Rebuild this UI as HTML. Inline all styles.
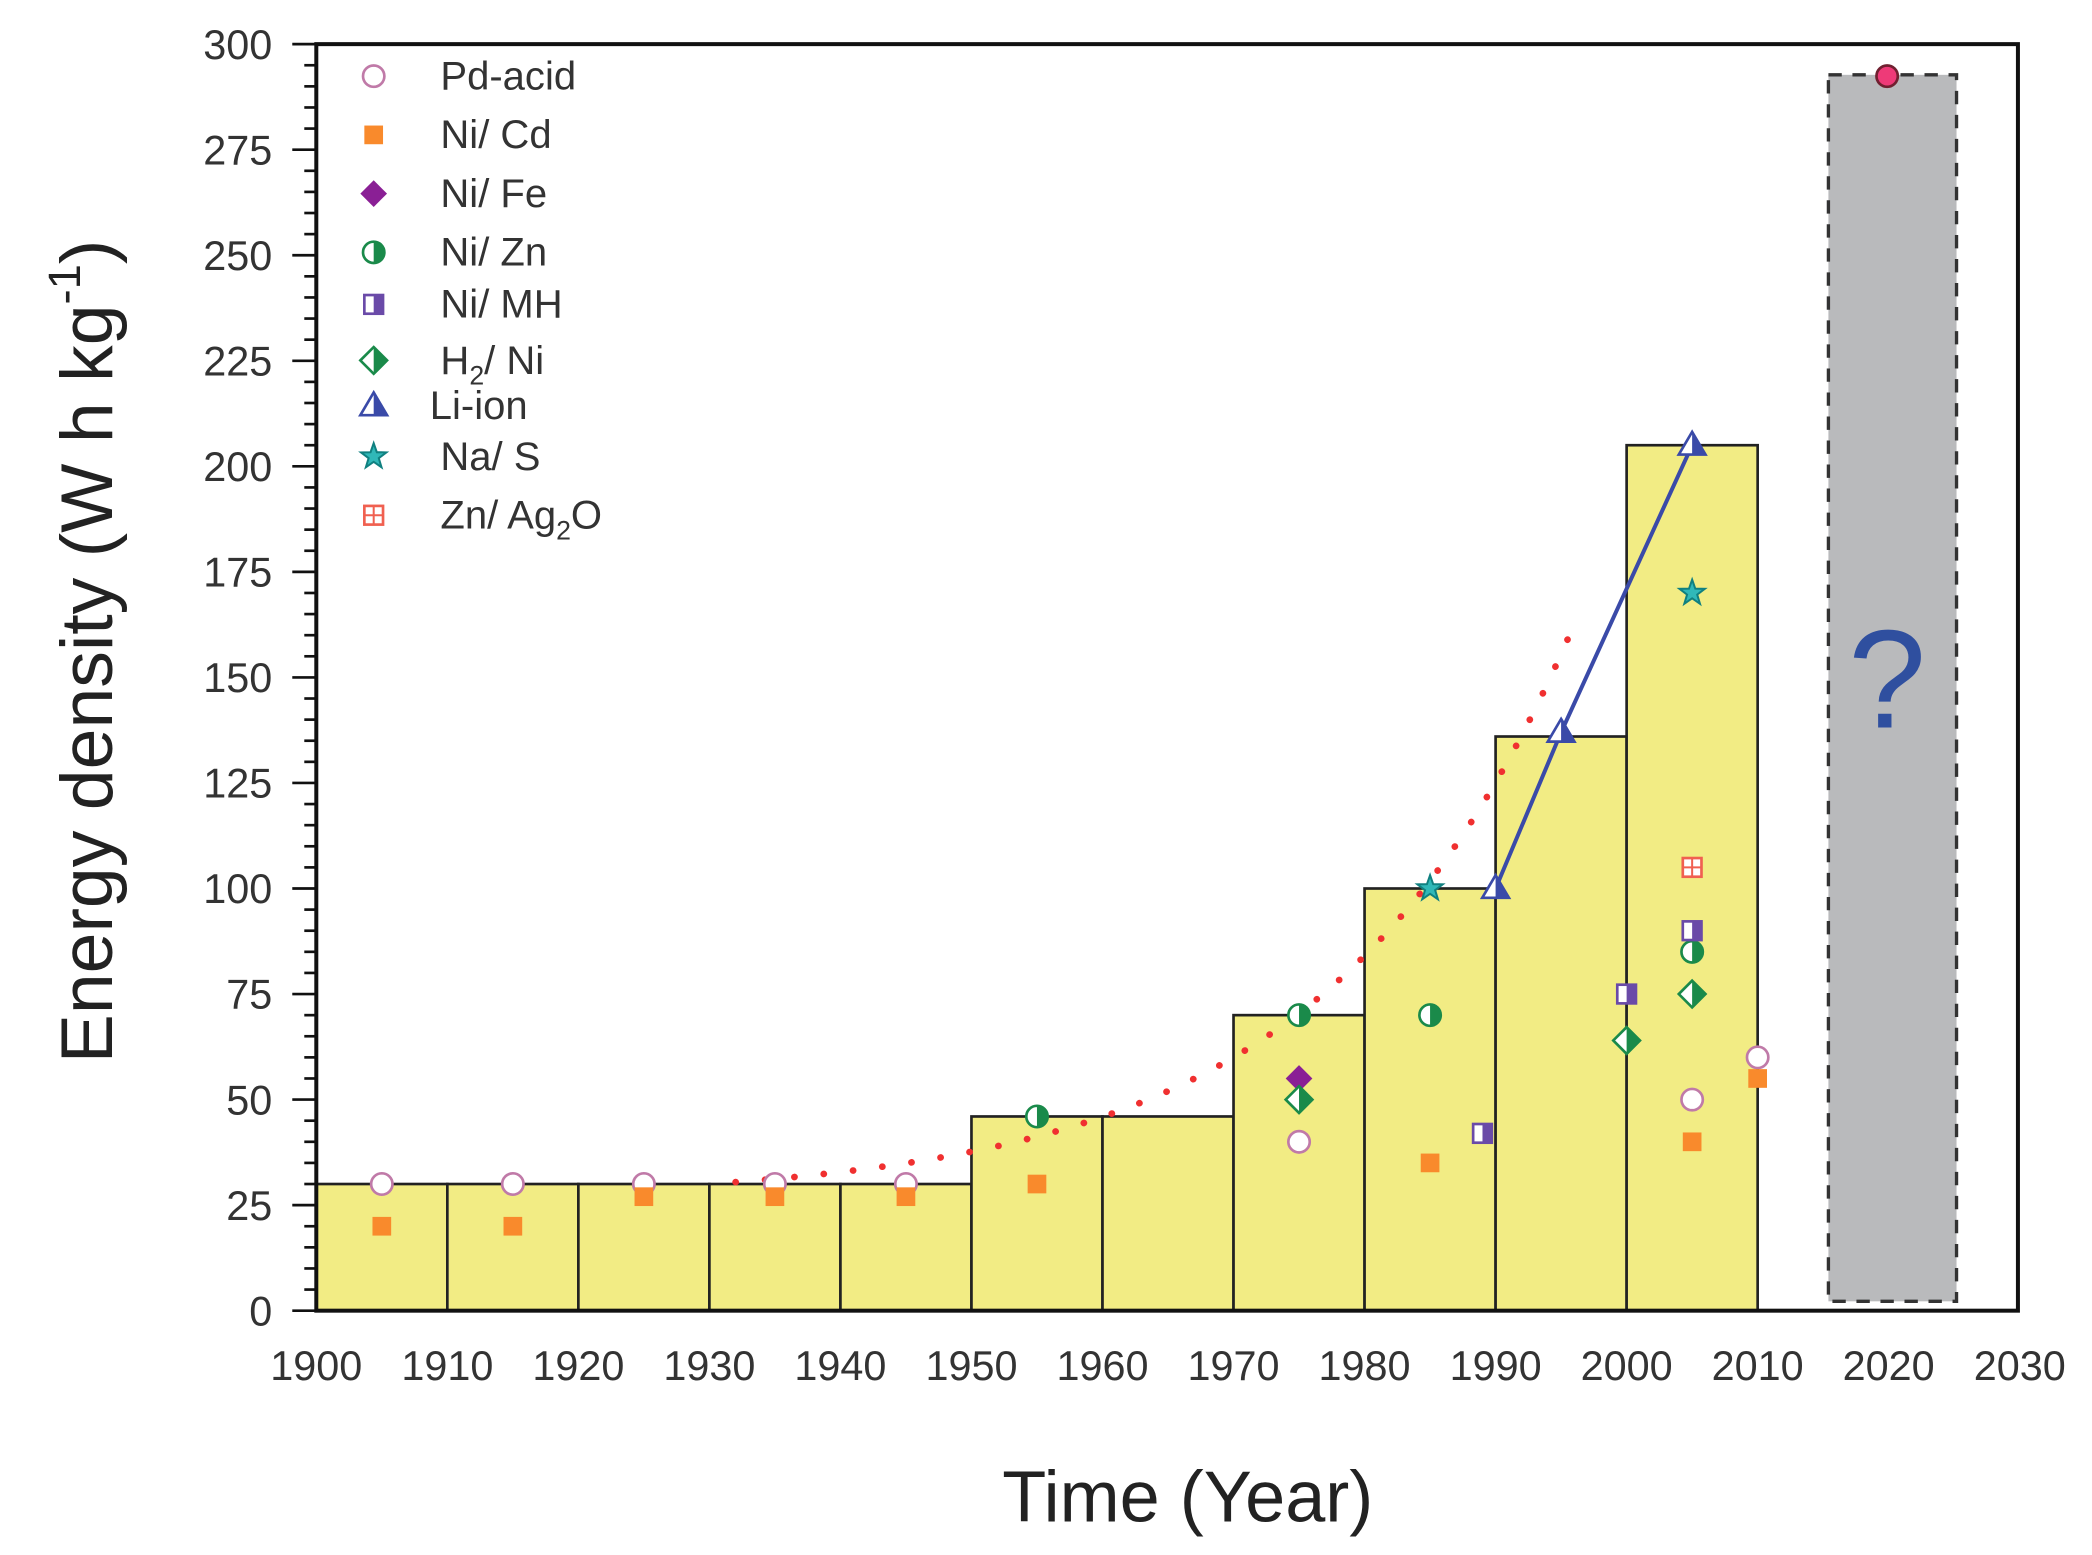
<!DOCTYPE html>
<html><head><meta charset="utf-8"><style>html,body{margin:0;padding:0;background:#fff}svg{display:block}</style></head>
<body>
<svg id="s" xmlns="http://www.w3.org/2000/svg" width="2092" height="1555" viewBox="0 0 1567.5 1165" font-family="Liberation Sans, sans-serif">
<rect width="1567.5" height="1165" fill="#fff"/>
<g id="bars" stroke="#222" stroke-width="2" fill="#f2ec84"></g>
<rect x="1370" y="56" width="96" height="919" fill="#b9babc" stroke="#333" stroke-width="2.5" stroke-dasharray="10,8"/>
<text x="1414" y="545" font-size="105" fill="#2f4f9f" text-anchor="middle">?</text>
<path id="curve" fill="none" stroke="#f03030" stroke-width="5" stroke-dasharray="0.1,22" stroke-linecap="round"/>
<polyline points="" id="li" fill="none" stroke="#3a4aa8" stroke-width="3"/>
<g id="mk"></g>
<rect x="237" y="33" width="1275" height="949" fill="none" stroke="#111" stroke-width="3"/>
<g id="ticks" stroke="#111" stroke-width="2"></g>
<g id="lab" font-size="31" fill="#333"></g>
<text transform="translate(84,488) rotate(-90)" font-size="55" fill="#222" text-anchor="middle">Energy density (W h kg<tspan font-size="34" dy="-24">-1</tspan><tspan dy="24">)</tspan></text>
<text x="890" y="1140" font-size="54" fill="#222" text-anchor="middle">Time (Year)</text>
<circle cx="1414" cy="57" r="8" fill="#ee3a78" stroke="#702030" stroke-width="2"/>
<g id="leg" font-size="30" fill="#333"></g>
</svg>
<script>
const NS="http://www.w3.org/2000/svg";
const X=y=>237+(y-1900)*9.818, Y=v=>982-v*3.1633;
function el(p,t,a,txt){const e=document.createElementNS(NS,t);for(const k in a)e.setAttribute(k,a[k]);if(txt!=null)e.textContent=txt;document.getElementById(p).appendChild(e);return e;}
[[1900,30],[1910,30],[1920,30],[1930,30],[1940,30],[1950,46],[1960,46],[1970,70],[1980,100],[1990,136],[2000,205]].forEach(([a,v])=>el('bars','rect',{x:X(a),y:Y(v),width:X(a+10)-X(a),height:Y(0)-Y(v)}));
let d="";for(let t=1932;t<=1996;t+=0.5){const val=26+4*Math.exp((t-1930)*0.0535);d+=(d?"L":"M")+X(t)+","+Y(val);}
document.getElementById('curve').setAttribute('d',d);
document.getElementById('li').setAttribute('points',[[1990,100],[1995,137],[2005,205]].map(p=>X(p[0])+","+Y(p[1])).join(" "));
function mark(g,type,x,y){
 const r=8;
 if(type=='pd') el(g,'circle',{cx:x,cy:y,r:r,fill:'#fff',stroke:'#c07aa8','stroke-width':2});
 if(type=='cd') el(g,'rect',{x:x-7,y:y-7,width:14,height:14,fill:'#f98a2c'});
 if(type=='fe') el(g,'path',{d:`M${x},${y-10}L${x+10},${y}L${x},${y+10}L${x-10},${y}Z`,fill:'#8a1f95'});
 if(type=='zn'){el(g,'circle',{cx:x,cy:y,r:r,fill:'#fff',stroke:'#1a8a4a','stroke-width':2});el(g,'path',{d:`M${x},${y-r}A${r},${r} 0 0 1 ${x},${y+r}Z`,fill:'#1a8a4a'});}
 if(type=='mh'){el(g,'rect',{x:x-7,y:y-7,width:14,height:14,fill:'#fff',stroke:'#6a4aa8','stroke-width':2});el(g,'rect',{x:x,y:y-7,width:7,height:14,fill:'#6a4aa8'});}
 if(type=='h2'){el(g,'path',{d:`M${x},${y-10}L${x+10},${y}L${x},${y+10}L${x-10},${y}Z`,fill:'#fff',stroke:'#1a8a4a','stroke-width':2});el(g,'path',{d:`M${x},${y-10}L${x+10},${y}L${x},${y+10}Z`,fill:'#1a8a4a'});}
 if(type=='li'){el(g,'path',{d:`M${x},${y-10}L${x+10},${y+7}L${x-10},${y+7}Z`,fill:'#fff',stroke:'#3a4aa8','stroke-width':2});el(g,'path',{d:`M${x},${y-10}L${x+10},${y+7}L${x},${y+7}Z`,fill:'#3a4aa8'});}
 if(type=='na'){let p="";for(let i=0;i<10;i++){const a=-Math.PI/2+i*Math.PI/5,rr=i%2?4:10;p+=(i?"L":"M")+(x+rr*Math.cos(a))+","+(y+rr*Math.sin(a));}el(g,'path',{d:p+"Z",fill:'#30b8b8',stroke:'#108080','stroke-width':1.5});}
 if(type=='ag'){el(g,'rect',{x:x-7,y:y-7,width:14,height:14,fill:'#fff',stroke:'#f06050','stroke-width':2});el(g,'path',{d:`M${x},${y-7}V${y+7}M${x-7},${y}H${x+7}`,stroke:'#f06050','stroke-width':1.5});}
}
const data={pd:[[1905,30],[1915,30],[1925,30],[1935,30],[1945,30],[1975,40],[2005,50],[2010,60]],
cd:[[1905,20],[1915,20],[1925,27],[1935,27],[1945,27],[1955,30],[1985,35],[2005,40],[2010,55]],
fe:[[1975,55]],zn:[[1955,46],[1975,70],[1985,70],[2005,85]],mh:[[1989,42],[2000,75],[2005,90]],
h2:[[1975,50],[2000,64],[2005,75]],na:[[1985,100],[2005,170]],ag:[[2005,105]],li:[[1990,100],[1995,137],[2005,205]]};
for(const k in data) data[k].forEach(p=>mark('mk',k,X(p[0]),Y(p[1])));
for(let v=0;v<=300;v+=5){const M=v%25==0;el('ticks','line',{x1:237-(M?18:9),x2:237,y1:Y(v),y2:Y(v)});if(M)el('lab','text',{x:204,y:Y(v)+11,'text-anchor':'end'},v);}
for(let t=1900;t<=2030;t+=10) el('lab','text',{x:X(t),y:1034,'text-anchor':'middle'},t);
const leg=[['pd','Pd-acid',57],['cd','Ni/ Cd',101],['fe','Ni/ Fe',145],['zn','Ni/ Zn',189],['mh','Ni/ MH',228],['h2','H2/ Ni',270],['li','Li-ion',304],['na','Na/ S',342],['ag','Zn/ Ag2O',386]];
leg.forEach(([k,t,y])=>{mark('leg',k,280,y);const lx=k=='li'?322:330;
 if(k=='h2'){const e=el('leg','text',{x:lx,y:y+10});e.innerHTML='H<tspan font-size="20" dy="8">2</tspan><tspan dy="-8">/ Ni</tspan>';}
 else if(k=='ag'){const e=el('leg','text',{x:lx,y:y+10});e.innerHTML='Zn/ Ag<tspan font-size="20" dy="8">2</tspan><tspan dy="-8">O</tspan>';}
 else el('leg','text',{x:lx,y:y+10},t);});
</script>
</body></html>
